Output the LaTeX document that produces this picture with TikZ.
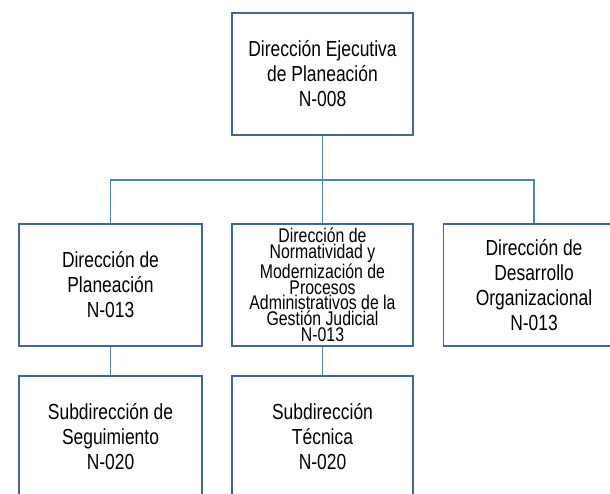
\documentclass[tikz,border=0pt]{standalone}
\usepackage{fontspec}
\newfontfamily\boxfont{Liberation Sans}[FakeStretch=0.8]
\definecolor{boxline}{HTML}{41679A}
\definecolor{conn}{HTML}{4F81BD}
\begin{document}
\begin{tikzpicture}[x=1pt,y=-1pt,
  orgbox/.style={draw=boxline, line width=1.6pt, fill=white, rectangle,
    minimum width=181pt, minimum height=122pt, align=center, inner sep=2pt,
    font=\boxfont\fontsize{21.8}{25}\selectfont, text=black},
  densebox/.style={orgbox, font=\boxfont\fontsize{19.8}{15.8}\selectfont},
  link/.style={draw=conn, line width=1.6pt}]
\useasboundingbox (0,0) rectangle (610,493);
\fill[white] (0,0) rectangle (610,493);
\begin{scope}
\clip (0,0) rectangle (610,493);
\coordinate (bus) at (322.5,180);
\node[orgbox] (top) at (322.5,74) {Dirección Ejecutiva\\de Planeación\\N-008};
\node[orgbox, minimum width=183pt] (L) at (110.5,285) {Dirección de\\Planeación\\N-013};
\node[densebox] (M) at (322.5,285) {Dirección de\\Normatividad y\\Modernización de\\Procesos\\Administrativos de la\\Gestión Judicial\\N-013};
\node[orgbox] (R) at (534,285) {Dirección de\\Desarrollo\\Organizacional\\N-013};
\node[orgbox, minimum width=183pt] (BL) at (110.5,437) {Subdirección de\\Seguimiento\\N-020};
\node[orgbox] (BM) at (322.5,437) {Subdirección\\Técnica\\N-020};
\draw[link] (top.south) -- (bus);
\draw[link] (L.north) |- (bus);
\draw[link] (R.north) |- (bus);
\draw[link] (M.north) -- (bus);
\draw[link] (L.south) -- (BL.north);
\draw[link] (M.south) -- (BM.north);
\end{scope}
\end{tikzpicture}
\end{document}
